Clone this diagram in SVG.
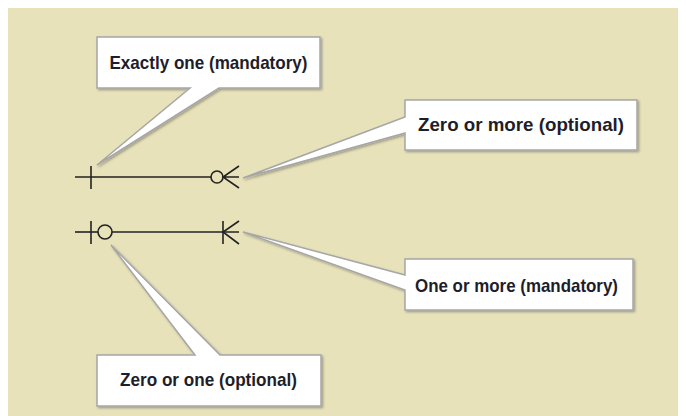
<svg xmlns="http://www.w3.org/2000/svg" width="686" height="416" viewBox="0 0 686 416">
  <defs>
    <filter id="shadow" x="-10%" y="-10%" width="130%" height="130%">
      <feDropShadow dx="1.5" dy="1.5" stdDeviation="1" flood-color="#000" flood-opacity="0.3"/>
    </filter>
  </defs>
  <style>
    .callout { fill: #ffffff; stroke: #a6a6a6; stroke-width: 1.5; stroke-linejoin: miter; filter: url(#shadow); }
    .label { font-family: "Liberation Sans", Arial, sans-serif; font-weight: bold; font-size: 19px; fill: #1e1e2a; text-anchor: middle; }
    .sym { fill: none; stroke: #222; stroke-width: 1.6; }
  </style>

  <!-- panel -->
  <rect x="0" y="0" width="686" height="416" fill="#ffffff"/>
  <rect x="8" y="8" width="670" height="408" fill="#e8e2bb"/>

  <!-- cardinality notation lines -->
  <g id="connectors">
    <!-- one mandatory ... zero or more -->
    <g id="rel-one-to-many-optional">
      <line class="sym" x1="75" y1="177" x2="211" y2="177"/>
      <line class="sym" x1="91" y1="166" x2="91" y2="189"/>
      <circle class="sym" cx="217" cy="177" r="6"/>
      <path class="sym" d="M239,166 L223,177 L239,188 M223,177 H239"/>
    </g>
    <!-- zero or one ... one or more -->
    <g id="rel-optional-to-many-mandatory">
      <line class="sym" x1="75" y1="232" x2="98" y2="232"/>
      <line class="sym" x1="112" y1="232" x2="239" y2="232"/>
      <line class="sym" x1="91" y1="221" x2="91" y2="244"/>
      <circle class="sym" cx="105" cy="232" r="7"/>
      <line class="sym" x1="223" y1="221" x2="223" y2="244"/>
      <path class="sym" d="M239,221 L223,232 L239,244"/>
    </g>
  </g>

  <g id="callout-exactly-one">
    <path class="callout" d="M97,37 H320 V88 H219 L97,165 L190,88 H97 Z"/>
    <text class="label" x="208.5" y="69" textLength="198" lengthAdjust="spacingAndGlyphs">Exactly one (mandatory)</text>
  </g>

  <g id="callout-zero-or-more">
    <path class="callout" d="M405,100 H637 V150 H405 V133 L243,178 L405,117 Z"/>
    <text class="label" x="521" y="131" textLength="206" lengthAdjust="spacingAndGlyphs">Zero or more (optional)</text>
  </g>

  <g id="callout-one-or-more">
    <path class="callout" d="M405,259 H633 V310 H405 V290 L243,232 L405,275 Z"/>
    <text class="label" x="516.5" y="292" textLength="203" lengthAdjust="spacingAndGlyphs">One or more (mandatory)</text>
  </g>

  <g id="callout-zero-or-one">
    <path class="callout" d="M97,355 H195 L111,245 L220,355 H321 V406 H97 Z"/>
    <text class="label" x="208.5" y="386" textLength="177" lengthAdjust="spacingAndGlyphs">Zero or one (optional)</text>
  </g>
</svg>
